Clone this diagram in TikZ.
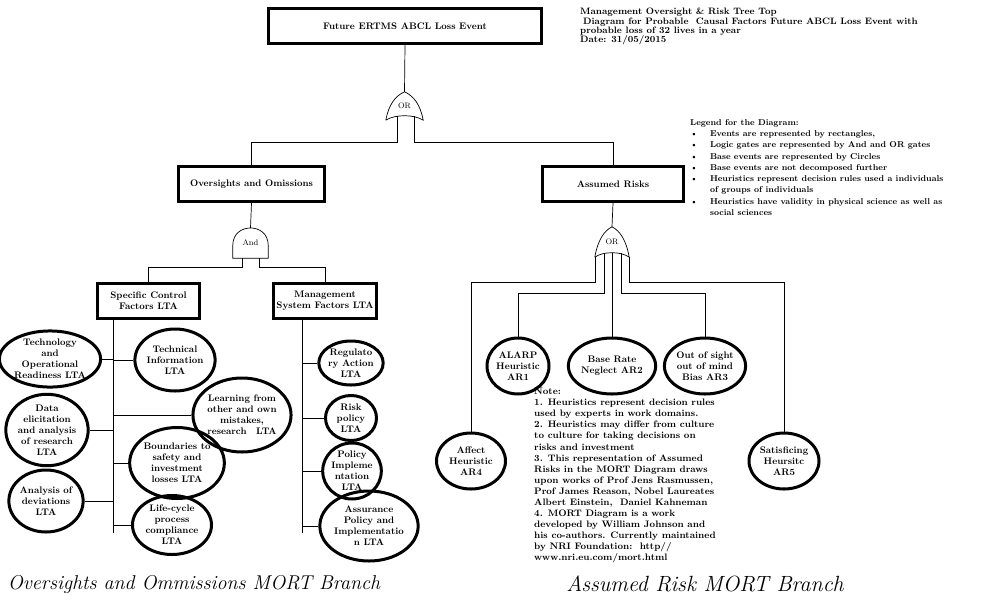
\documentclass[tikz,border=0pt]{standalone}
\usetikzlibrary{shapes,positioning,calc}

\begin{document}
\begin{tikzpicture}[x=1pt,y=-1pt,
    every node/.style={font=\fontsize{9.5}{11}\selectfont\bfseries},
    event/.style={draw,rectangle,line width=3.2pt,inner sep=0pt,align=center,minimum height=35pt},
    base/.style={draw,ellipse,line width=3pt,inner sep=0pt,align=center},
    gatelbl/.style={inner sep=0pt,font=\fontsize{8}{9}\selectfont},
    wire/.style={line width=0.7pt},
    note/.style={anchor=north west,align=left,inner sep=0pt,font=\fontsize{9.4}{11.07}\selectfont\bfseries},
    caption/.style={inner sep=0pt,font=\fontsize{20}{24}\selectfont\itshape}
    ]
    \useasboundingbox (0,0) rectangle (987,611);

    % the events
    \node (top) [event,minimum width=273pt] at (405,26) {Future ERTMS ABCL Loss Event};
    \node (over) [event,minimum width=146pt] at (251.5,184) {Oversights and Omissions};
    \node (risks) [event,minimum width=141pt] at (613,184) {Assumed Risks};
    \node (spec) [event,minimum width=102pt] at (148.5,301) {Specific Control\\Factors LTA};
    \node (mgmt) [event,minimum width=103pt] at (325,301) {Management\\System Factors LTA};

    % the gates
    \node (or1) [gatelbl,minimum width=37pt,minimum height=28pt] at (404.5,106) {OR};
    \draw[wire] (or1.south west) .. controls ($(or1.south west)+(3,-16)$) and ($(or1.north)+(-9,4)$) .. (or1.north)
        .. controls ($(or1.north)+(9,4)$) and ($(or1.south east)+(-3,-16)$) .. (or1.south east)
        .. controls ($(or1.south east)+(-9,-6)$) and ($(or1.south west)+(9,-6)$) .. (or1.south west);
    \node (and1) [gatelbl,minimum width=35pt,minimum height=30pt] at (250.5,243) {And};
    \draw[wire] (and1.south west) -- ($(and1.south west)+(0,-13)$)
        .. controls ($(and1.south west)+(0,-36)$) and ($(and1.south east)+(0,-36)$) .. ($(and1.south east)+(0,-13)$)
        -- (and1.south east) -- cycle;
    \node (or2) [gatelbl,minimum width=34pt,minimum height=30pt] at (612,242) {OR};
    \draw[wire] (or2.south west) .. controls ($(or2.south west)+(3,-17)$) and ($(or2.north)+(-8,4)$) .. (or2.north)
        .. controls ($(or2.north)+(8,4)$) and ($(or2.south east)+(-3,-17)$) .. (or2.south east)
        .. controls ($(or2.south east)+(-8,-6)$) and ($(or2.south west)+(8,-6)$) .. (or2.south west);

    % the base events
    \node (tech) [base,minimum width=82pt,minimum height=56pt] at (50,359) {Technology\\and\\Operational\\Readiness LTA};
    \node (techinfo) [base,minimum width=73pt,minimum height=62pt] at (175,360) {Technical\\Information\\LTA};
    \node (data) [base,minimum width=73pt,minimum height=58pt] at (47,430) {Data\\elicitation\\and analysis\\of research\\LTA};
    \node (learn) [base,minimum width=90pt,minimum height=74pt] at (242,415) {Learning from\\other and own\\mistakes,\\research\quad LTA};
    \node (bound) [base,minimum width=89pt,minimum height=71pt] at (177,463) {Boundaries to\\safety and\\investment\\losses LTA};
    \node (analysis) [base,minimum width=72pt,minimum height=62pt] at (46,501) {Analysis of\\deviations\\LTA};
    \node (life) [base,minimum width=79pt,minimum height=59pt] at (172,525) {Life-cycle\\process\\compliance\\LTA};
    \node (regul) [base,minimum width=51pt,minimum height=44pt] at (351,363) {Regulato\\ry Action\\LTA};
    \node (riskp) [base,minimum width=51pt,minimum height=45pt] at (351,418) {Risk\\policy\\LTA};
    \node (policy) [base,minimum width=52pt,minimum height=41pt] at (352,471) {Policy\\Impleme\\ntation\\LTA};
    \node (assur) [base,minimum width=86pt,minimum height=70pt] at (369,526) {Assurance\\Policy and\\Implementatio\\n LTA};
    \node (alarp) [base,minimum width=62pt,minimum height=56pt] at (518,366) {ALARP\\Heuristic\\AR1};
    \node (base) [base,minimum width=64pt,minimum height=56pt] at (612,366) {Base Rate\\Neglect AR2};
    \node (oos) [base,minimum width=66pt,minimum height=56pt] at (705,366) {Out of sight\\out of mind\\Bias AR3};
    \node (affect) [base,minimum width=69pt,minimum height=56pt] at (471,461) {Affect\\Heuristic\\AR4};
    \node (satis) [base,minimum width=70pt,minimum height=56pt] at (784,461) {Satisficing\\Heursitc\\AR5};

    % joints
    \coordinate (j1) at (397,142);
    \coordinate (j2) at (414,142);
    \coordinate (or1b) at ($(or1.south)+(0,-4)$);
    \coordinate (j3) at (242,267);
    \coordinate (j4) at (259,267);
    \coordinate (k1) at (595,282);
    \coordinate (k2) at (604,293);
    \coordinate (k4) at (621,293);
    \coordinate (k5) at (629,282);
    \coordinate (or2b) at ($(or2.south)+(0,-4)$);
    \coordinate (specbot) at (113,533);
    \coordinate (mgmtbot) at (302,533);

    % the edges
    \draw[wire] (top.south) -- (or1.north);
    \draw[wire] (over.north) |- (j1) -- (j1 |- or1b);
    \draw[wire] (risks.north) |- (j2) -- (j2 |- or1b);
    \draw[wire] (over.south) -- (and1.north);
    \draw[wire] (spec.north) |- (j3) -- (j3 |- and1.south);
    \draw[wire] (mgmt.north) |- (j4) -- (j4 |- and1.south);
    \draw[wire] (risks.south) -- (or2.north);
    \draw[wire] (affect.north) |- (k1) -- (k1 |- or2.south);
    \draw[wire] (alarp.north) |- (k2) -- (k2 |- or2b);
    \draw[wire] (base.north) -- (or2b);
    \draw[wire] (oos.north) |- (k4) -- (k4 |- or2b);
    \draw[wire] (satis.north) |- (k5) -- (k5 |- or2.south);

    % the spines
    \draw[wire] (spec.south -| specbot) -- (specbot);
    \draw[wire] (tech.east) -- (tech.east -| specbot);
    \draw[wire] (data.east) -- (data.east -| specbot);
    \draw[wire] (analysis.east) -- (analysis.east -| specbot);
    \draw[wire] (techinfo.west) -- (techinfo.west -| specbot);
    \draw[wire] (learn.west) -- (learn.west -| specbot);
    \draw[wire] (bound.west) -- (bound.west -| specbot);
    \draw[wire] (life.west) -- (life.west -| specbot);
    \draw[wire] (mgmt.south -| mgmtbot) -- (mgmtbot);
    \draw[wire] (regul.west) -- (regul.west -| mgmtbot);
    \draw[wire] (riskp.west) -- (riskp.west -| mgmtbot);
    \draw[wire] (policy.west) -- (policy.west -| mgmtbot);
    \draw[wire] (assur.west) -- (assur.west -| mgmtbot);

    % texts
    \node (head) [note,font=\fontsize{9.3}{9.4}\selectfont\bfseries] at (580,8) {Management Oversight \& Risk Tree Top\\
        \hspace{3pt}Diagram for Probable\ \ Causal Factors Future ABCL Loss Event with\\
        probable loss of 32 lives in a year\\
        Date: 31/05/2015};
    \node (legend) [note,font=\fontsize{8.5}{11.3}\selectfont\bfseries] at (690,117) {%
        \begin{tabular}{@{}l@{\hspace{12pt}}l@{}}
        \multicolumn{2}{@{}l}{Legend for the Diagram:}\\
        \textbullet & Events are represented by rectangles,\\
        \textbullet & Logic gates are represented by And and OR gates\\
        \textbullet & Base events are represented by Circles\\
        \textbullet & Base events are not decomposed further\\
        \textbullet & Heuristics represent decision rules used a individuals\\
         & of groups of individuals\\
        \textbullet & Heuristics have validity in physical science as well as\\
         & social sciences
        \end{tabular}};
    \node (note) [note] at (534,388) {Note:\\
        1. Heuristics represent decision rules\\
        used by experts in work domains.\\
        2. Heuristics may differ from culture\\
        to culture for taking decisions on\\
        risks and investment\\
        3. This representation of Assumed\\
        Risks in the MORT Diagram draws\\
        upon works of Prof Jens Rasmussen,\\
        Prof James Reason, Nobel Laureates\\
        Albert Einstein,\ \ Daniel Kahneman\\
        4. MORT Diagram is a work\\
        developed by William Johnson and\\
        his co-authors. Currently maintained\\
        by NRI Foundation:\ \ http//\\
        www.nri.eu.com/mort.html};
    \node (capL) [caption] at (194,584) {Oversights and Ommissions MORT Branch};
    \node (capR) [caption,font=\fontsize{22}{26}\selectfont\itshape] at (705,584) {Assumed Risk MORT Branch};
\end{tikzpicture}
\end{document}
